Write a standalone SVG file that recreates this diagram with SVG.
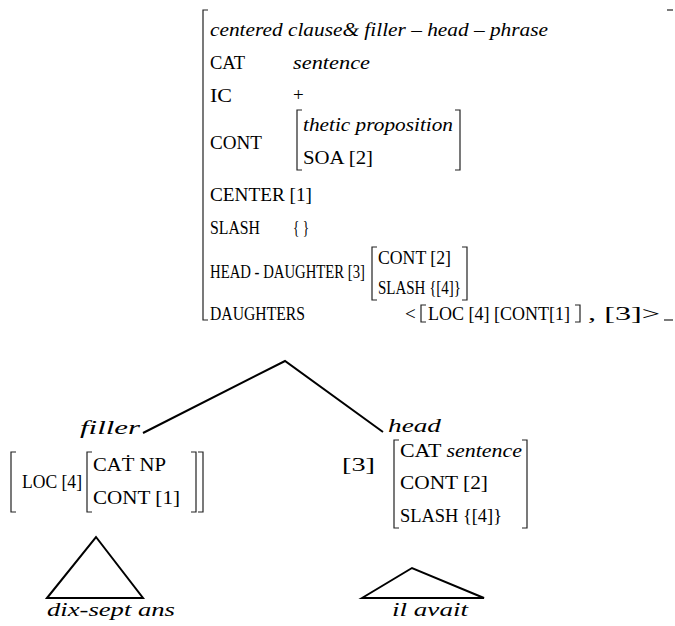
<svg xmlns="http://www.w3.org/2000/svg" width="675" height="626" viewBox="0 0 675 626">
<style>
text{font-family:"Liberation Serif","DejaVu Serif","Times New Roman",serif;font-size:19px;fill:#000}
.i{font-style:italic}
.b{fill:none;stroke:#222;stroke-width:1.2}
.l{fill:none;stroke:#000;stroke-width:2}
</style>
<rect width="675" height="626" fill="#fff"/>
<g id="root-avm">
<path class="b" d="M208,10 H203 V320 H208"/>
<path class="b" d="M667,10 H673"/>
<path class="b" d="M664,320 H673"/>
<text class="i" x="210" y="36" textLength="338" lengthAdjust="spacingAndGlyphs">centered clause&amp; filler – head – phrase</text>
<text x="210" y="69" textLength="35" lengthAdjust="spacingAndGlyphs">CAT</text>
<text class="i" x="293" y="69" textLength="77" lengthAdjust="spacingAndGlyphs">sentence</text>
<text x="210" y="102" textLength="22" lengthAdjust="spacingAndGlyphs">IC</text>
<text x="293" y="101">+</text>
<text x="210" y="149" textLength="52" lengthAdjust="spacingAndGlyphs">CONT</text>
<path class="b" d="M302,110 H297 V170 H302"/>
<path class="b" d="M455,110 H460 V170 H455"/>
<text class="i" x="303" y="131" textLength="150" lengthAdjust="spacingAndGlyphs">thetic proposition</text>
<text x="303" y="164" textLength="70" lengthAdjust="spacingAndGlyphs">SOA [2]</text>
<text x="210" y="201" textLength="102" lengthAdjust="spacingAndGlyphs">CENTER [1]</text>
<text x="210" y="234" textLength="50" lengthAdjust="spacingAndGlyphs">SLASH</text>
<text x="293" y="234" textLength="16" lengthAdjust="spacingAndGlyphs">{ }</text>
<text x="210" y="278" font-size="16.5" textLength="155" lengthAdjust="spacingAndGlyphs">HEAD - DAUGHTER [3]</text>
<path class="b" d="M377,247 H372 V300 H377"/>
<path class="b" d="M462,247 H467 V300 H462"/>
<text x="378" y="264" font-size="18" textLength="73" lengthAdjust="spacingAndGlyphs">CONT   [2]</text>
<text x="378" y="294" font-size="18" textLength="83" lengthAdjust="spacingAndGlyphs">SLASH {[4]}</text>
<text x="210" y="320" textLength="95" lengthAdjust="spacingAndGlyphs">DAUGHTERS</text>
<text x="405" y="320">&lt;</text>
<path class="b" d="M426,305 H421 V322 H426"/>
<text x="428" y="320" textLength="142" lengthAdjust="spacingAndGlyphs">LOC [4] [CONT[1]</text>
<path class="b" d="M575,305 H580 V322 H575"/>
<text x="588" y="320" textLength="72" lengthAdjust="spacingAndGlyphs">, [3]&gt;</text>
</g>
<g id="connectors">
<path class="l" d="M143,433 L285,361 L383,432"/>
<path class="l" d="M47,598 L96,537 L143,598 Z"/>
<path class="l" d="M362,598 L412,568 L484,598 Z"/>
</g>
<g id="filler">
<text class="i" x="80" y="434" font-size="23" textLength="60" lengthAdjust="spacingAndGlyphs">filler</text>
<path class="b" d="M16,452 H11 V512 H16"/>
<path class="b" d="M198,452 H203 V512 H198"/>
<text x="22" y="488" textLength="60" lengthAdjust="spacingAndGlyphs">LOC [4]</text>
<path class="b" d="M92,452 H87 V512 H92"/>
<path class="b" d="M191,452 H196 V512 H191"/>
<text x="93" y="471" textLength="73" lengthAdjust="spacingAndGlyphs">CAṪ NP</text>
<text x="93" y="504" textLength="87" lengthAdjust="spacingAndGlyphs">CONT [1]</text>
</g>
<g id="head">
<text class="i" x="388" y="432" font-size="23" textLength="53" lengthAdjust="spacingAndGlyphs">head</text>
<text x="342" y="471" font-size="21" textLength="33" lengthAdjust="spacingAndGlyphs">[3]</text>
<path class="b" d="M399,440 H394 V528 H399"/>
<path class="b" d="M522,440 H527 V528 H522"/>
<text x="400" y="457" textLength="122" lengthAdjust="spacingAndGlyphs">CAT <tspan class="i">sentence</tspan></text>
<text x="400" y="489" textLength="88" lengthAdjust="spacingAndGlyphs">CONT    [2]</text>
<text x="400" y="522" textLength="102" lengthAdjust="spacingAndGlyphs">SLASH {[4]}</text>
</g>
<g id="leaf-filler">
<text class="i" x="47" y="616" font-size="23" textLength="128" lengthAdjust="spacingAndGlyphs">dix-sept ans</text>
</g>
<g id="leaf-head">
<text class="i" x="392" y="616" font-size="23" textLength="76" lengthAdjust="spacingAndGlyphs">il avait</text>
</g>
</svg>
